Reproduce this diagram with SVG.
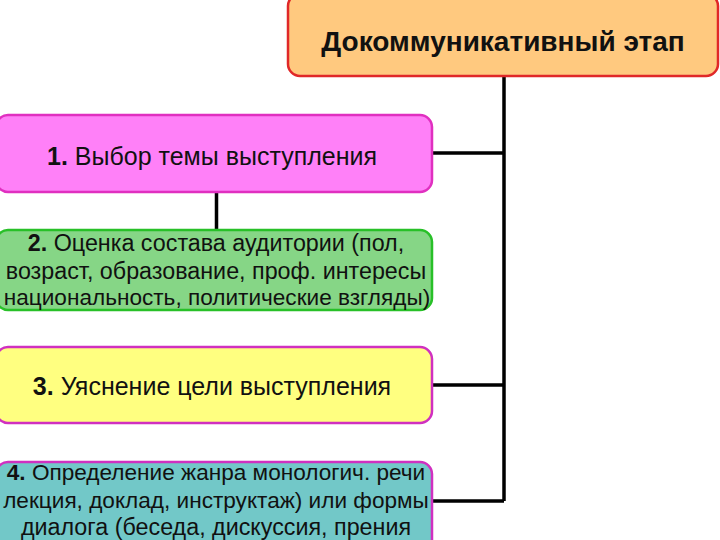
<svg xmlns="http://www.w3.org/2000/svg" width="720" height="540" viewBox="0 0 720 540">
<style>
.box{stroke-width:2.5}
.t{font-family:"Liberation Sans",Arial,sans-serif;font-size:23.3px;fill:#111;text-anchor:middle}
.n{font-size:22.6px}
.s{font-size:25px}
.h{font-size:28px;font-weight:bold}
.b{font-weight:bold}
.c{stroke:#000;stroke-width:3.5;fill:none}
</style>
<rect width="720" height="540" fill="#fff"/>
<g id="connectors">
<path class="c" d="M504 76 V501 M432 153 H504 M432 385 H504 M432 501 H504 M216.5 192 V230"/>
</g>
<g id="top">
<rect class="box" x="288" y="-6" width="430" height="82" rx="12" fill="#FFC97F" stroke="#E02828"/>
<text class="t h" x="503" y="51">Докоммуникативный этап</text>
</g>
<g id="n1">
<rect class="box" x="-4" y="115" width="436" height="77" rx="12" fill="#FF80F8" stroke="#E030C0"/>
<text class="t s" x="212" y="165"><tspan class="b">1.</tspan> Выбор темы выступления</text>
</g>
<g id="n2">
<rect class="box" x="-4" y="230" width="436" height="80" rx="12" fill="#86D686" stroke="#28C028"/>
<text class="t" x="216" y="251"><tspan class="b">2.</tspan> Оценка состава аудитории (пол,</text>
<text class="t" x="216" y="279">возраст, образование, проф. интересы</text>
<text class="t n" x="217" y="305">национальность, политические взгляды)</text>
</g>
<g id="n3">
<rect class="box" x="-4" y="347" width="436" height="76" rx="12" fill="#FFFF80" stroke="#D030C0"/>
<text class="t s" x="212" y="395"><tspan class="b">3.</tspan> Уяснение цели выступления</text>
</g>
<g id="n4">
<rect class="box" x="-4" y="462" width="436" height="90" rx="12" fill="#72C8C8" stroke="#D030C0"/>
<text class="t n" x="216" y="480"><tspan class="b">4.</tspan> Определение жанра монологич. речи</text>
<text class="t n" x="216" y="508">лекция, доклад, инструктаж) или формы</text>
<text class="t" x="216" y="535">диалога (беседа, дискуссия, прения</text>
</g>
</svg>
